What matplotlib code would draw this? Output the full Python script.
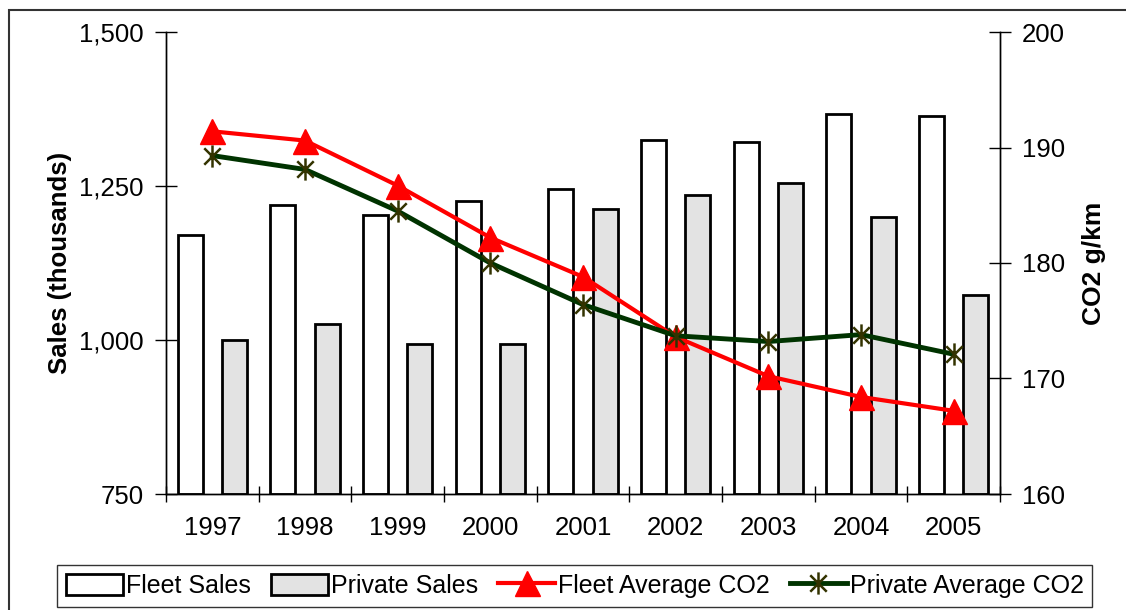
import matplotlib
matplotlib.use("Agg")
import matplotlib.pyplot as plt
import numpy as np
from matplotlib.path import Path
from matplotlib.patches import Rectangle
from matplotlib.ticker import FuncFormatter, FixedLocator

years = ["1997", "1998", "1999", "2000", "2001", "2002", "2003", "2004", "2005"]
fleet_sales = [1170, 1219, 1203, 1226, 1245, 1325, 1321, 1367, 1364]
private_sales = [1000, 1026, 993, 993, 1213, 1235, 1255, 1200, 1073]
fleet_co2 = [191.4, 190.6, 186.7, 182.2, 178.8, 173.6, 170.2, 168.4, 167.2]
private_co2 = [189.3, 188.1, 184.5, 180.0, 176.4, 173.7, 173.2, 173.8, 172.1]

plt.rcParams['font.family'] = ['Liberation Sans', 'DejaVu Sans']

fig = plt.figure(figsize=(11.26, 6.10), dpi=100)
# figure frame (partially cut in the original)
fig.add_artist(Rectangle((9/1126, -0.1), 1.2, 1 - 10/610 + 0.1,
                         transform=fig.transFigure, fill=False,
                         edgecolor='#333333', lw=1.5))

ax = fig.add_axes([166/1126, (610-494)/610, (1000-166)/1126, (494-32)/610])
ax2 = ax.twinx()

x = np.arange(len(years))
bw = 0.27
ax.bar(x - 0.24, [v - 750 for v in fleet_sales], bottom=750, width=bw,
       facecolor='white', edgecolor='black', lw=2, label='Fleet Sales', zorder=2)
ax.bar(x + 0.24, [v - 750 for v in private_sales], bottom=750, width=bw,
       facecolor='#e3e3e3', edgecolor='black', lw=2, label='Private Sales', zorder=2)

ax.set_xlim(-0.5, len(years) - 0.5)
ax.set_ylim(750, 1500)
ax.set_yticks([750, 1000, 1250, 1500])
ax.yaxis.set_major_formatter(FuncFormatter(lambda v, p: f"{int(v):,}"))
ax.set_xticks(x)
ax.set_xticklabels(years)
ax.xaxis.set_minor_locator(FixedLocator(np.arange(-0.5, len(years), 1.0)))
ax.tick_params(axis='x', which='major', length=0, pad=16, labelsize=18.5)
ax.tick_params(axis='x', which='minor', direction='inout', length=12, width=1)
ax.tick_params(axis='y', direction='inout', length=16, width=1, labelsize=18.5, pad=8)

star = Path([(-1, -1), (1, 1), (-1, 1), (1, -1), (0, -1.35), (0, 1.35)],
            [Path.MOVETO, Path.LINETO, Path.MOVETO, Path.LINETO, Path.MOVETO, Path.LINETO])

ax2.plot(x, fleet_co2, color='#ff0000', lw=3, marker='^', markersize=18,
         markerfacecolor='#ff0000', markeredgecolor='#ff0000', label='Fleet Average CO2', zorder=4)
ax2.plot(x, private_co2, color='#003300', lw=3.5, marker=star, markersize=16,
         markeredgecolor='#333300', markerfacecolor='none', markeredgewidth=1.8,
         label='Private Average CO2', zorder=5)
ax2.set_ylim(160, 200)
ax2.set_yticks([160, 170, 180, 190, 200])
ax2.tick_params(axis='y', direction='inout', length=16, width=1, labelsize=18.5, pad=8)

for a in (ax, ax2):
    a.spines['top'].set_visible(False)
    for s in ('left', 'right', 'bottom'):
        a.spines[s].set_linewidth(1)
ax.set_zorder(ax2.get_zorder() - 1)
ax2.patch.set_visible(False)

ax.set_ylabel('Sales (thousands)', fontsize=18.5, fontweight='bold', labelpad=5)
ax2.set_ylabel('CO2 g/km', fontsize=19, fontweight='bold', labelpad=12)

h1, l1 = ax.get_legend_handles_labels()
h2, l2 = ax2.get_legend_handles_labels()
leg = fig.legend(h1 + h2, l1 + l2, loc='upper left', bbox_to_anchor=(57/1126, 1 - 565/610),
                 ncol=4, fontsize=18, frameon=True, fancybox=False, edgecolor='black',
                 handlelength=2.3, handleheight=0.9, handletextpad=0.1, columnspacing=0.8,
                 borderpad=0.35, borderaxespad=0)
leg.get_frame().set_linewidth(1)

fig.savefig('out.png', dpi=100)
